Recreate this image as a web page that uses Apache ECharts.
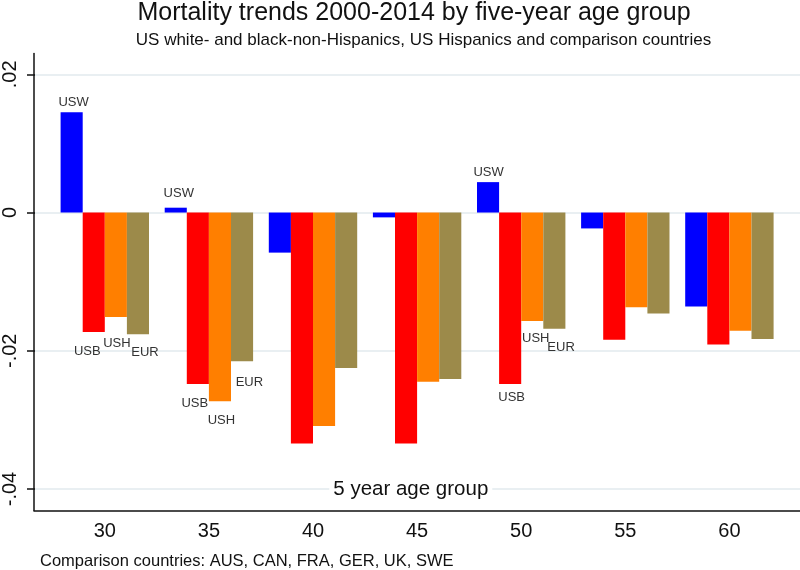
<!DOCTYPE html>
<html><head><meta charset="utf-8">
<script src="https://cdn.jsdelivr.net/npm/echarts@6/dist/echarts.min.js"></script>
<style>html,body{margin:0;padding:0;background:#fff}#c{width:800px;height:570px}</style>
</head><body><div id="c"></div>
<script>
// ---- data ----
const categories = ['30', '35', '40', '45', '50', '55', '60'];
const seriesNames = ['USW', 'USB', 'USH', 'EUR'];
const usw = [0.0145, 0.0007, -0.0058, -0.0007, 0.0044, -0.0023, -0.0136];
const usb = [-0.0173, -0.0248, -0.0334, -0.0334, -0.0248, -0.0184, -0.0191];
const ush = [-0.0151, -0.0273, -0.0309, -0.0245, -0.0157, -0.0137, -0.0171];
const eur = [-0.0176, -0.0215, -0.0225, -0.0241, -0.0168, -0.0146, -0.0183];
const yTickValues = [-0.04, -0.02, 0, 0.02];
const yTickLabels = ['-.04', '-.02', '0', '.02'];
const labelledGroups = ['30', '35', '50'];

// ---- styles ----
const FONT = 'Liberation Sans, Arial, sans-serif';
const colors = { USW: '#0000ff', USB: '#ff0000', USH: '#ff7f00', EUR: '#9c8a4a' };
const labelOffsets = {
  USW: { '30': [2, -3], '35': [3, -8], '50': [0.5, -3.5] },
  USB: { '30': [-6.5, 13], '35': [-3, 12.5], '50': [1.5, 6.5] },
  USH: { '30': [1, 20], '35': [1.5, 13], '50': [3.5, 11] },
  EUR: { '30': [7, 12], '35': [7.3, 14.5], '50': [6.7, 12] }
};
const valuesByName = { USW: usw, USB: usb, USH: ush, EUR: eur };

function yLabel(v) {
  let best = 0;
  yTickValues.forEach((t, i) => { if (Math.abs(t - v) < Math.abs(yTickValues[best] - v)) best = i; });
  return yTickLabels[best];
}

const series = seriesNames.map(name => ({
  name: name,
  type: 'bar',
  xAxisIndex: 2,
  yAxisIndex: 2,
  barWidth: 22.1,
  barGap: '0%',
  itemStyle: { color: colors[name] },
  emphasis: { disabled: true },
  data: valuesByName[name].map((v, i) => {
    const cat = categories[i];
    if (labelledGroups.indexOf(cat) < 0) return v;
    return {
      value: v,
      label: {
        show: true,
        formatter: name,
        position: v >= 0 ? 'top' : 'bottom',
        distance: 0,
        offset: labelOffsets[name][cat],
        fontFamily: FONT,
        fontSize: 13,
        color: '#333'
      }
    };
  })
}));

const chart = echarts.init(document.getElementById('c'), null, { renderer: 'canvas' });
chart.setOption({
  animation: false,
  backgroundColor: '#fff',
  grid: [
    { left: 34, right: 0, top: 53.5, bottom: 59.5 },   // frame (axis lines)
    { left: 34, right: 0, top: 74.3, bottom: 81 },     // ticks + gridlines
    { left: 52.75, right: 18.55, top: 74.3, bottom: 81 } // bars
  ],
  xAxis: [
    { gridIndex: 0, type: 'value', min: 0, max: 1,
      axisLine: { show: true, onZero: false, lineStyle: { color: '#111', width: 1.5 } },
      axisTick: { show: false }, axisLabel: { show: false }, splitLine: { show: false } },
    { gridIndex: 1, type: 'value', min: 0, max: 1, show: false },
    { gridIndex: 2, type: 'category', data: categories,
      axisLine: { show: false }, axisTick: { show: false }, splitLine: { show: false },
      axisLabel: { margin: 32, fontFamily: FONT, fontSize: 20, color: '#111' } }
  ],
  yAxis: [
    { gridIndex: 0, type: 'value', min: 0, max: 1,
      axisLine: { show: true, onZero: false, lineStyle: { color: '#111', width: 1.5 } },
      axisTick: { show: false }, axisLabel: { show: false }, splitLine: { show: false } },
    { gridIndex: 1, type: 'value', min: -0.04, max: 0.02, interval: 0.02,
      axisLine: { show: false },
      axisTick: { show: true, length: 8, lineStyle: { color: '#111', width: 1.5 } },
      axisLabel: { rotate: 90, margin: 15, fontFamily: FONT, fontSize: 20, color: '#111', formatter: yLabel },
      splitLine: { show: true, lineStyle: { color: '#e2eaee', width: 1.5 } } },
    { gridIndex: 2, type: 'value', min: -0.04, max: 0.02, show: false }
  ],
  series: series,
  graphic: [
    { type: 'text', x: 414, y: 13, z: 100,
      style: { text: 'Mortality trends 2000-2014 by five-year age group', fontFamily: FONT, fontSize: 25,
        fill: '#111', align: 'center', verticalAlign: 'middle' } },
    { type: 'text', x: 423.5, y: 40, z: 100,
      style: { text: 'US white- and black-non-Hispanics, US Hispanics and comparison countries', fontFamily: FONT, fontSize: 17,
        fill: '#111', align: 'center', verticalAlign: 'middle' } },
    { type: 'text', x: 410.8, y: 489.5, z: 100,
      style: { text: '5 year age group', fontFamily: FONT, fontSize: 20.5, fill: '#111',
        align: 'center', verticalAlign: 'middle', backgroundColor: '#fff', padding: [0, 4] } },
    { type: 'text', x: 40, y: 561, z: 100,
      style: { text: 'Comparison countries: AUS, CAN, FRA, GER, UK, SWE', fontFamily: FONT, fontSize: 16.5,
        fill: '#111', align: 'left', verticalAlign: 'middle' } }
  ]
});
</script>
</body></html>
